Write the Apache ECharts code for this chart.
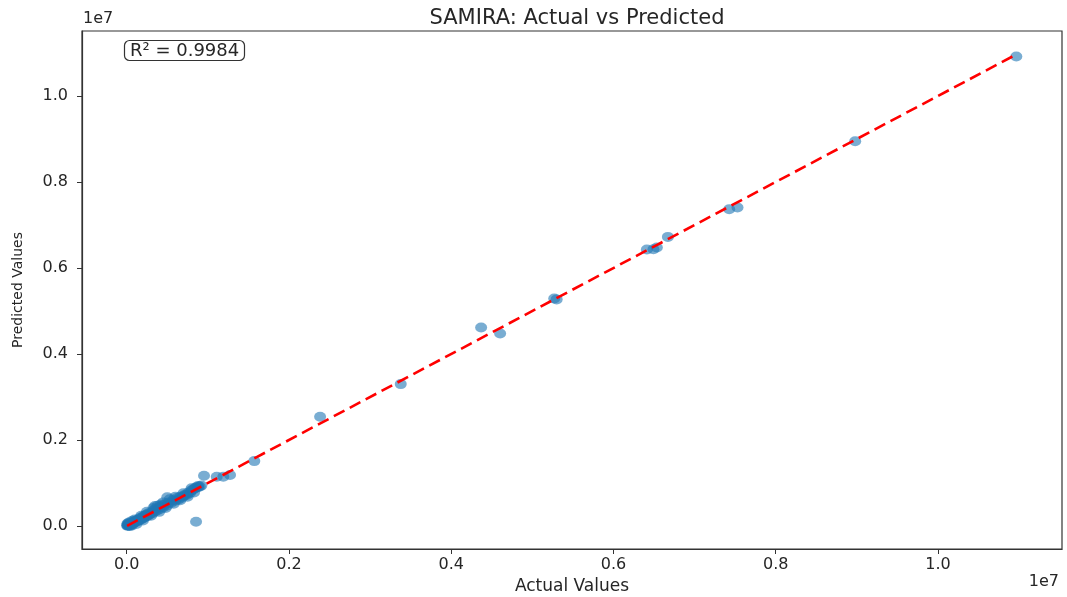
<!DOCTYPE html>
<html>
<head>
<meta charset="utf-8">
<script src="https://cdn.jsdelivr.net/npm/echarts@6/dist/echarts.min.js"></script>
<style>html,body{margin:0;padding:0;background:#fff}#chart{width:1067px;height:597px}</style>
</head>
<body>
<div id="chart"></div>
<script>
// Data (values in raw units)
const actual = [
  5000, 10000, 15000, 20000, 25000, 30000, 35000, 40000, 45000, 50000, 55000, 60000, 65000, 70000, 75000, 80000, 85000, 90000,
  100000, 110000, 120000, 130000, 140000, 150000, 160000, 170000, 180000, 190000, 200000, 210000, 220000, 230000, 240000,
  250000, 260000, 270000, 280000, 300000, 320000, 330000, 350000, 360000, 380000, 400000, 420000, 440000, 450000, 470000,
  500000, 520000, 550000, 570000, 600000, 620000, 640000, 660000, 680000, 700000, 720000, 740000, 760000, 780000, 800000,
  820000, 840000, 860000, 880000, 900000,
  20000, 60000, 100000, 120000, 180000, 200000, 250000, 300000, 330000, 400000, 420000, 480000, 530000, 580000, 600000,
  660000, 700000, 750000, 800000, 830000, 880000, 920000, 450000, 380000, 10000, 40000, 70000, 30000,
  349000, 500000, 855000, 953000, 1110000, 1191000, 1274000, 1573000, 2384000, 3378000, 4369000, 4603000, 5270000, 5300000,
  6412000, 6493000, 6535000, 6671000, 7427000, 7529000, 8980000, 10966000
];
const predicted = [
  10000, 20000, 5000, 30000, 15000, 40000, 20000, 50000, 30000, 60000, 45000, 70000, 50000, 80000, 60000, 90000, 70000, 100000,
  90000, 120000, 100000, 140000, 120000, 160000, 140000, 190000, 160000, 200000, 180000, 230000, 200000, 250000, 220000,
  270000, 240000, 300000, 270000, 310000, 300000, 360000, 340000, 400000, 370000, 430000, 400000, 480000, 440000, 500000,
  480000, 550000, 540000, 600000, 590000, 650000, 620000, 680000, 660000, 700000, 730000, 720000, 780000, 770000, 830000,
  850000, 880000, 900000, 900000, 920000,
  60000, 10000, 150000, 50000, 240000, 130000, 330000, 240000, 420000, 330000, 500000, 420000, 620000, 520000, 680000,
  600000, 760000, 680000, 880000, 780000, 930000, 940000, 550000, 470000, 60000, 0, 120000, 80000,
  465000, 667000, 100000, 1169000, 1146000, 1146000, 1185000, 1510000, 2540000, 3300000, 4618000, 4478000, 5290000, 5270000,
  6430000, 6437000, 6477000, 6723000, 7367000, 7406000, 8947000, 10920000
];
const tickValues = [0, 2000000, 4000000, 6000000, 8000000, 10000000];
const titleText = 'SAMIRA: Actual vs Predicted';
const xName = 'Actual Values';
const yName = 'Predicted Values';
const r2Text = 'R² = 0.9984';
const offsetText = '1e7';

const points = actual.map((a, i) => [a, predicted[i]]);
const lo = Math.min(...actual), hi = Math.max(...actual);
const refLine = [[lo, lo], [hi, hi]];

const font = 'DejaVu Sans, sans-serif';
const txt = '#262626';
const chart = echarts.init(document.getElementById('chart'), null, {renderer: 'canvas'});
chart.setOption({
  animation: false,
  backgroundColor: '#fff',
  title: [
    {text: titleText, left: 572, top: 3, textAlign: 'center',
     textStyle: {fontFamily: font, fontSize: 21, fontWeight: 'normal', color: txt}},
    {text: r2Text, left: 124, top: 40, padding: [2, 6, 1, 6], borderColor: '#333', borderWidth: 1.2, borderRadius: 5,
     backgroundColor: '#fff',
     textStyle: {fontFamily: font, fontSize: 18, fontWeight: 'normal', color: txt}}
  ],
  grid: {left: 82, right: 5, top: 31, bottom: 48, show: true, borderColor: '#333', borderWidth: 1.2,
         backgroundColor: 'transparent', containLabel: false, outerBoundsMode: 'none'},
  xAxis: {
    type: 'value', min: -551000, max: 11529000,
    name: xName, nameLocation: 'middle', nameGap: 26,
    nameTextStyle: {fontFamily: font, fontSize: 17, color: txt},
    axisLine: {show: true, onZero: false, lineStyle: {color: '#333', width: 1.2}},
    axisTick: {show: true, inside: false, length: 5, customValues: tickValues, lineStyle: {color: '#333'}},
    axisLabel: {customValues: tickValues, margin: 8, fontFamily: font, fontSize: 16, color: txt,
      formatter: v => (v / 1e7).toFixed(1)},
    splitLine: {show: false}
  },
  yAxis: {
    type: 'value', min: -534000, max: 11511000,
    name: yName, nameLocation: 'middle', nameGap: 57, nameRotate: 90,
    nameTextStyle: {fontFamily: font, fontSize: 14, color: txt},
    axisLine: {show: true, onZero: false, lineStyle: {color: '#333', width: 1.2}},
    axisTick: {show: true, inside: false, length: 5, customValues: tickValues, lineStyle: {color: '#333'}},
    axisLabel: {customValues: tickValues, margin: 14, fontFamily: font, fontSize: 16, color: txt,
      formatter: v => (v / 1e7).toFixed(1)},
    splitLine: {show: false}
  },
  graphic: [
    {type: 'text', left: 83, top: 11, style: {text: offsetText, font: '16px ' + font, fill: txt}},
    {type: 'text', right: 8, top: 574, style: {text: offsetText, font: '16px ' + font, fill: txt}}
  ],
  series: [
    {type: 'scatter', data: points, symbol: 'circle', symbolSize: [12, 10],
     itemStyle: {color: '#1f77b4', opacity: 0.6}, z: 2},
    {type: 'line', data: refLine, symbol: 'none', z: 3,
     lineStyle: {color: '#ff0000', width: 2.6, type: [12, 6]}}
  ]
});
</script>
</body>
</html>
